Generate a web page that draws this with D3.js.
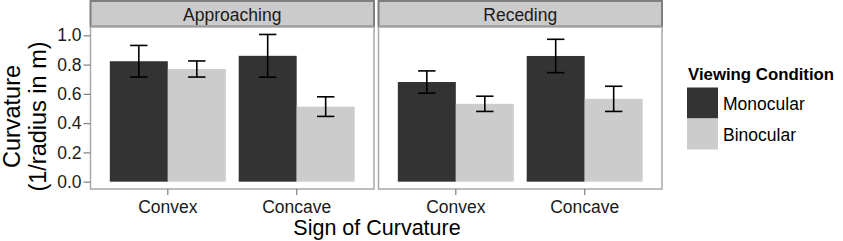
<!DOCTYPE html>
<html>
<head>
<meta charset="utf-8">
<script src="https://cdn.jsdelivr.net/npm/d3@7"></script>
<style>
  body { margin: 0; background: #fff; }
  text { font-family: "Liberation Sans", Arial, Helvetica, sans-serif; }
</style>
</head>
<body>
<div id="chart"></div>
<script>
// Data
const panels = ["Approaching", "Receding"];
const categories = ["Convex", "Concave"];
const conditions = ["Monocular", "Binocular"];
const yTicks = [0, 0.2, 0.4, 0.6, 0.8, 1.0];

// means[panel][condition] -> values per category
const monocularMeans = [[0.823, 0.860], [0.681, 0.859]];
const binocularMeans = [[0.770, 0.513], [0.532, 0.566]];
// half-length of the error bars
const monocularErr = [[0.108, 0.146], [0.076, 0.114]];
const binocularErr = [[0.055, 0.067], [0.052, 0.086]];

const colors = ["#333333", "#cccccc"];

const W = 843, H = 241;
const svg = d3.select("#chart").append("svg")
    .attr("width", W)
    .attr("height", H);

// Panel layout
const panelX = [90.5, 378.5];
const panelW = 283.5;
const stripTop = 1, stripH = 25.5;
const plotTop = 27, plotBottom = 189;

// y scale with ggplot-like 5% expansion
const y = d3.scaleLinear()
    .domain([-0.05, 1.057])
    .range([plotBottom, plotTop]);

panels.forEach((panel, p) => {
    const g = svg.append("g").attr("transform", `translate(${panelX[p]},0)`);

    // strip
    g.append("rect")
        .attr("x", 0).attr("y", stripTop)
        .attr("width", panelW).attr("height", stripH)
        .attr("fill", "#cbcbcb")
        .attr("stroke", "#7f7f7f")
        .attr("stroke-width", 2);
    g.append("text")
        .attr("x", panelW / 2).attr("y", 20.5)
        .attr("text-anchor", "middle")
        .style("font-size", "17.5px")
        .attr("fill", "#1a1a1a")
        .text(panel);

    // panel background
    g.append("rect")
        .attr("x", 0).attr("y", plotTop)
        .attr("width", panelW).attr("height", plotBottom - plotTop)
        .attr("fill", "#fff");

    const x = d3.scaleBand()
        .domain(categories)
        .range([0, panelW])
        .paddingInner(0.1)
        .paddingOuter(0.15);
    const xSub = d3.scaleBand()
        .domain(conditions)
        .range([0, x.bandwidth()]);

    const rows = [];
    categories.forEach((cat, c) => {
        rows.push({ cat, cond: "Monocular", v: monocularMeans[p][c], e: monocularErr[p][c] });
        rows.push({ cat, cond: "Binocular", v: binocularMeans[p][c], e: binocularErr[p][c] });
    });

    g.selectAll(".bar")
        .data(rows)
        .enter().append("rect")
        .attr("class", "bar")
        .attr("x", d => x(d.cat) + xSub(d.cond))
        .attr("width", xSub.bandwidth())
        .attr("y", d => y(d.v))
        .attr("height", d => y(0) - y(d.v))
        .attr("fill", d => colors[conditions.indexOf(d.cond)]);

    // error bars
    const capHalf = xSub.bandwidth() * 0.15;
    const eb = g.selectAll(".err")
        .data(rows)
        .enter().append("g")
        .attr("class", "err")
        .attr("transform", d => `translate(${x(d.cat) + xSub(d.cond) + xSub.bandwidth() / 2},0)`)
        .attr("stroke", "#000")
        .attr("stroke-width", 1.6);
    eb.append("line")
        .attr("x1", 0).attr("x2", 0)
        .attr("y1", d => y(d.v - d.e)).attr("y2", d => y(d.v + d.e));
    eb.append("line")
        .attr("x1", -capHalf).attr("x2", capHalf)
        .attr("y1", d => y(d.v + d.e)).attr("y2", d => y(d.v + d.e));
    eb.append("line")
        .attr("x1", -capHalf).attr("x2", capHalf)
        .attr("y1", d => y(d.v - d.e)).attr("y2", d => y(d.v - d.e));

    // panel border
    g.append("rect")
        .attr("x", 0).attr("y", plotTop)
        .attr("width", panelW).attr("height", plotBottom - plotTop)
        .attr("fill", "none")
        .attr("stroke", "#a8a8a8")
        .attr("stroke-width", 1.5);

    // x axis
    const xAxis = g.append("g")
        .attr("transform", `translate(0,${plotBottom})`)
        .call(d3.axisBottom(x).tickSize(6).tickPadding(6));
    xAxis.select(".domain").remove();
    xAxis.selectAll(".tick line").attr("stroke", "#7f7f7f").attr("stroke-width", 1.2);
    xAxis.selectAll(".tick text")
        .attr("fill", "#1a1a1a")
        .style("font-size", "17.5px")
        .style("font-family", "'Liberation Sans', Arial, sans-serif");

    // y axis only on first panel
    if (p === 0) {
        const yAxis = g.append("g")
            .call(d3.axisLeft(y).tickValues(yTicks).tickFormat(d3.format(".1f")).tickSize(7).tickPadding(2));
        yAxis.select(".domain").remove();
        yAxis.selectAll(".tick line").attr("stroke", "#7f7f7f").attr("stroke-width", 1.2);
        yAxis.selectAll(".tick text")
            .attr("fill", "#1a1a1a")
            .style("font-size", "17.5px")
            .style("font-family", "'Liberation Sans', Arial, sans-serif");
    }
});

// axis titles
svg.append("text")
    .attr("x", 377).attr("y", 235)
    .attr("text-anchor", "middle")
    .style("font-size", "21.5px")
    .text("Sign of Curvature");

const yTitle = svg.append("text")
    .attr("transform", "translate(20,116.5) rotate(-90)")
    .attr("text-anchor", "middle")
    .style("font-size", "23.5px");
yTitle.append("tspan").attr("x", 0).attr("y", 0).text("Curvature");
yTitle.append("tspan").attr("x", 0).attr("y", 26).text("(1/radius in m)");

// legend
const legend = svg.append("g").attr("transform", "translate(687,0)");
legend.append("text")
    .attr("x", 1).attr("y", 80)
    .style("font-size", "16.8px")
    .style("font-weight", "bold")
    .text("Viewing Condition");
conditions.forEach((cond, i) => {
    legend.append("rect")
        .attr("x", 0).attr("y", 87.5 + i * 31)
        .attr("width", 31).attr("height", 31)
        .attr("fill", colors[i]);
    legend.append("text")
        .attr("x", 36).attr("y", 109.5 + i * 31)
        .style("font-size", "17.5px")
        .text(cond);
});
</script>
</body>
</html>
